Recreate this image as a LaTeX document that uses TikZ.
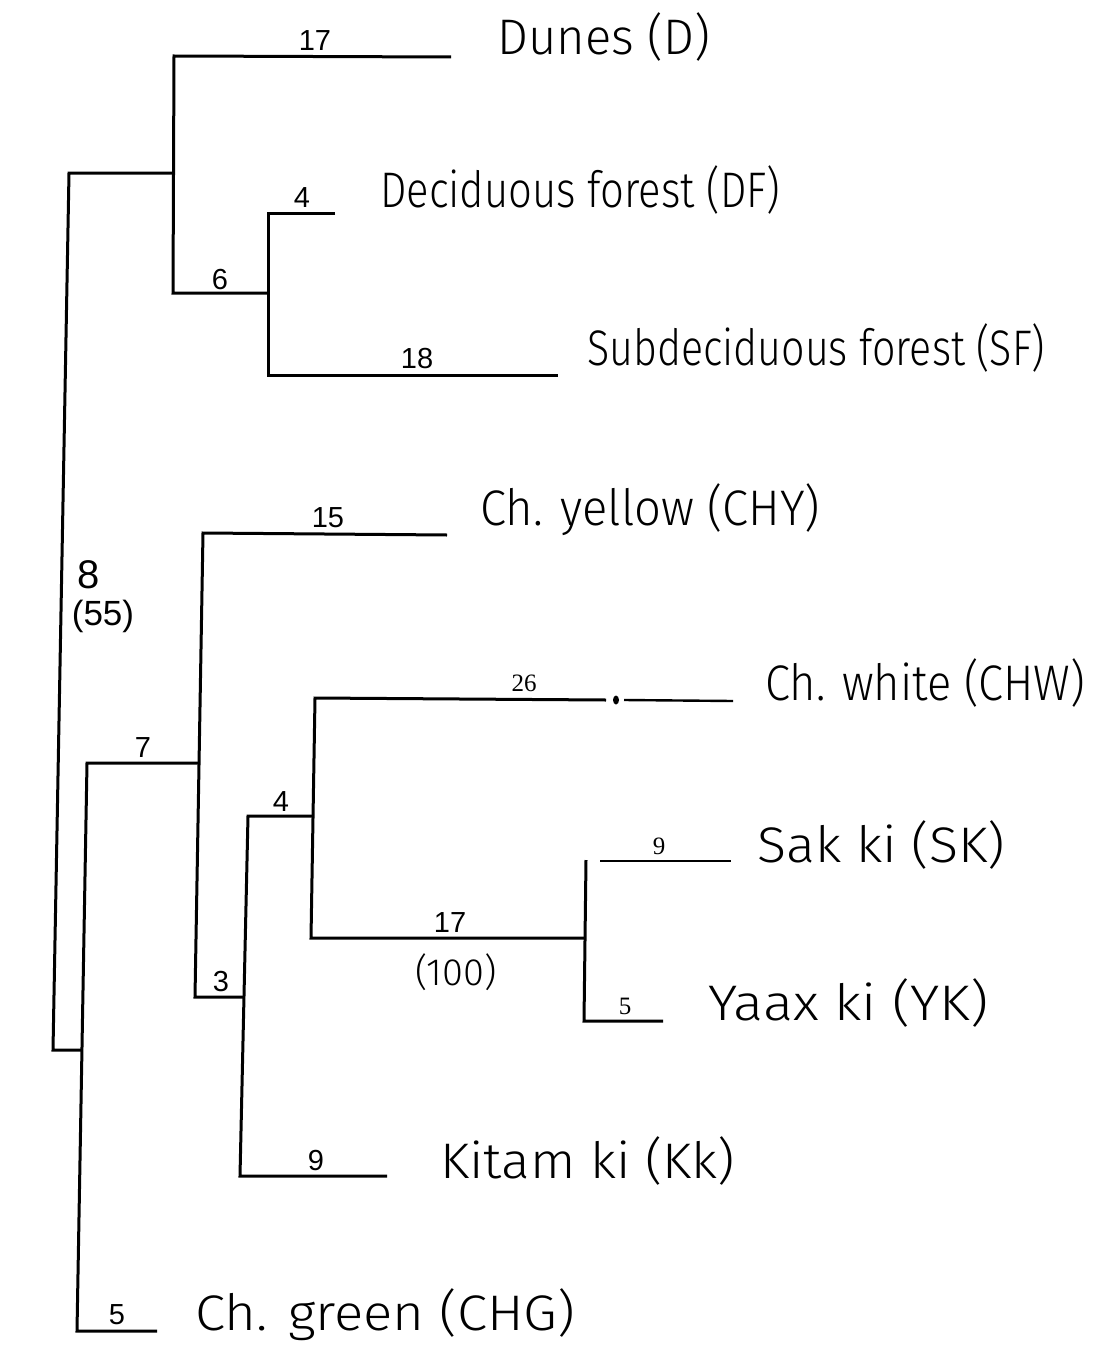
\documentclass[tikz,border=0pt]{standalone}
\usepackage{fontspec}
\setmainfont{Liberation Sans}
\IfFontExistsTF{Fira Sans Light}{\newfontfamily\hand{Fira Sans Light}}{\newfontfamily\hand{Fira Sans}}
\newfontfamily\sernum{Liberation Serif}
\newcommand\fitw[2]{\resizebox{#1pt}{\height}{#2}}
\begin{document}
\begin{tikzpicture}[x=1pt,y=-1pt,
  br/.style={line width=3pt,line join=miter,line cap=butt},
  thinbr/.style={line width=2.4pt,line cap=butt},
  lab/.style={anchor=base west,inner sep=0pt,font=\hand\fontsize{50}{60}\selectfont},
  num/.style={anchor=center,inner sep=0pt,font=\fontsize{29}{32}\selectfont},
  snum/.style={anchor=center,inner sep=0pt,font=\sernum\fontsize{25}{28}\selectfont},
  hnum/.style={anchor=center,inner sep=0pt,font=\hand\fontsize{38}{40}\selectfont}]
\useasboundingbox (0,0) rectangle (1095,1362);
% coordinates of the tree
\coordinate (R1) at (69,173);
\coordinate (R2) at (53,1050);
\coordinate (N1t) at (174,56);
\coordinate (N1m) at (174,173);
\coordinate (N1b) at (173,293);
\coordinate (Dend) at (451,57);
\coordinate (N2t) at (268,213);
\coordinate (N2m) at (268,293);
\coordinate (N2b) at (268,375);
\coordinate (DFend) at (335,213);
\coordinate (SFend) at (558,375);
\coordinate (N3m) at (82,1050);
\coordinate (N3t) at (87,763);
\coordinate (N3b) at (77,1331);
\coordinate (CHGend) at (157,1331);
\coordinate (N4m) at (199,763);
\coordinate (N4t) at (203,533);
\coordinate (N4b) at (195,997);
\coordinate (CHYend) at (447,535);
\coordinate (N5m) at (244,997);
\coordinate (N5t) at (248,816);
\coordinate (N5b) at (240,1176);
\coordinate (Kkend) at (387,1176);
\coordinate (N6m) at (313,816);
\coordinate (N6t) at (315,698);
\coordinate (N6b) at (311,938);
\coordinate (W1) at (606,700);
\coordinate (Wdot) at (616,700);
\coordinate (W2) at (624,700);
\coordinate (CHWend) at (733,701);
\coordinate (N7m) at (585,938);
\coordinate (N7t) at (586,860);
\coordinate (N7b) at (584,1021);
\coordinate (SK1) at (600,861);
\coordinate (SKend) at (731,861);
\coordinate (YKend) at (663,1021);
% branches
\draw[br] (N1m) -- (R1) -- (R2) -- (N3m);
\draw[br] (Dend) -- (N1t) -- (N1b) -- (N2m);
\draw[br] (DFend) -- (N2t) -- (N2b) -- (SFend);
\draw[br] (N4m) -- (N3t) -- (N3b) -- (CHGend);
\draw[br] (CHYend) -- (N4t) -- (N4b) -- (N5m);
\draw[br] (N6m) -- (N5t) -- (N5b) -- (Kkend);
\draw[br] (W1) -- (N6t) -- (N6b) -- (N7m);
\draw[thinbr] (W2) -- (CHWend);
\fill (Wdot) ellipse (3pt and 4.5pt);
\draw[br] (N7t) -- (N7b) -- (YKend);
\draw[thinbr] (SK1) -- (SKend);
% branch numbers
\node[num] (l17a) at (315,41) {17};
\node[num] (l4a) at (302,198) {4};
\node[num] (l6) at (220,280) {6};
\node[num] (l18) at (417,359) {18};
\node[num] (l15) at (328,518) {15};
\node[num,font=\fontsize{40}{42}\selectfont] (l8) at (89,575) {8};
\node[num,font=\fontsize{35}{40}\selectfont] (l55) at (103,616) {(55)};
\node[num] (l7) at (143,748) {7};
\node[num] (l4b) at (281,802) {4};
\node[num] (l3) at (221,982) {3};
\node[num] (l9a) at (316,1161) {9};
\node[num] (l5a) at (117,1315) {5};
\node[num] (l17b) at (450,923) {17};
\node[hnum] (l100) at (456,972) {(100)};
\node[snum] (l26) at (524,683) {26};
\node[snum] (l9b) at (659,846) {9};
\node[snum] (l5b) at (625,1006) {5};
% leaf labels
\node[lab] (tD) at (497,55) {\fitw{213}{Dunes (D)}};
\node[lab] (tDF) at (380,207) {\fitw{400}{Deciduous forest (DF)}};
\node[lab] (tSF) at (587,365) {\fitw{458}{Subdeciduous forest (SF)}};
\node[lab] (tCHY) at (480,525) {\fitw{340}{Ch. yellow (CHY)}};
\node[lab] (tCHW) at (765,700) {\fitw{320}{Ch. white (CHW)}};
\node[lab] (tSK) at (757,862) {\fitw{248}{Sak ki (SK)}};
\node[lab] (tYK) at (708,1020) {\fitw{280}{Yaax ki (YK)}};
\node[lab] (tKk) at (440,1178) {\fitw{295}{Kitam ki (Kk)}};
\node[lab] (tCHG) at (195,1330) {\fitw{380}{Ch. green (CHG)}};
\end{tikzpicture}
\end{document}
